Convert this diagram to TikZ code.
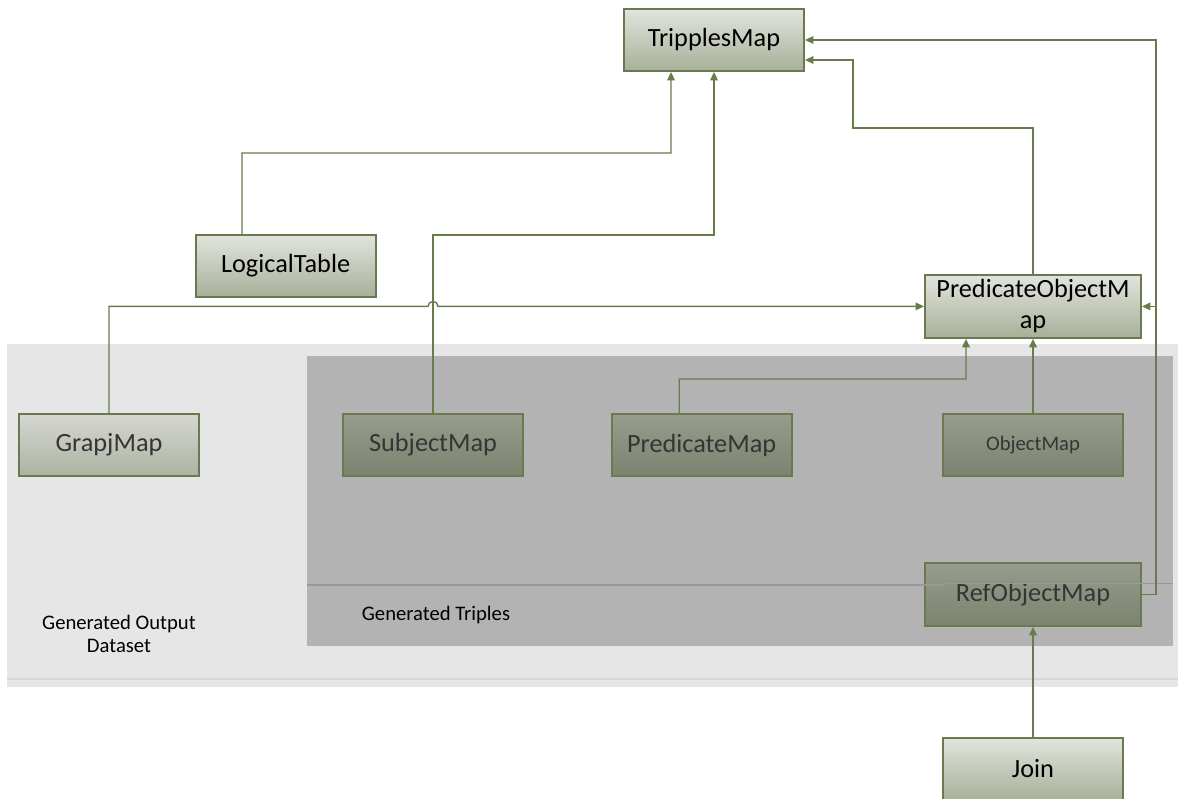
\documentclass[tikz,border=0pt]{standalone}
\usepackage{fontspec}
\setmainfont{Carlito}
\usetikzlibrary{arrows.meta,positioning,calc,shadings}
\definecolor{olive}{HTML}{6A7A50}
\definecolor{wire}{HTML}{687B4B}
\definecolor{boxtop}{HTML}{E2E4DE}
\definecolor{boxbot}{HTML}{A7B098}
\definecolor{midtop}{HTML}{D5D7D1}
\definecolor{midbot}{HTML}{ADB3A3}
\definecolor{darktop}{HTML}{979C8C}
\definecolor{darkbot}{HTML}{7C836F}
\definecolor{outerbg}{HTML}{E6E6E6}
\definecolor{innerbg}{HTML}{B3B3B3}
\definecolor{seam}{HTML}{999999}
\definecolor{dimtext}{HTML}{353535}
\newcommand{\bigfnt}{\fontsize{18.7}{22}\selectfont}
\newcommand{\smallfnt}{\fontsize{14.7}{16.4}\selectfont}
\tikzset{
  mapbox/.style={draw=olive, line width=1.4pt, top color=boxtop, bottom color=boxbot, minimum width=4.5cm, minimum height=1.55cm, inner sep=2pt, align=center, font=\bigfnt, text=black},
  midbox/.style={mapbox, top color=midtop, bottom color=midbot, text=dimtext},
  darkbox/.style={mapbox, top color=darktop, bottom color=darkbot, text=dimtext},
  arr/.style={-{Triangle[length=2.1mm,width=1.9mm]}, line width=1pt, draw=wire},
  note/.style={font=\smallfnt, text=black, align=center},
}
\begin{document}
\begin{tikzpicture}
  \useasboundingbox (0,0) rectangle (29.45,19.95);
  % background areas
  \fill[outerbg] (0.175,2.775) rectangle (29.45,11.35);
  \draw[line width=0.8pt, draw=black!16] (0.175,2.975) -- (29.45,2.975);
  \fill[innerbg] (7.675,3.8) rectangle (29.325,11.05);
  \node[note] (outlab) at (2.975,4.11) {Generated Output\\Dataset};
  \node[note] (triplab) at (10.9,4.575) {Generated Triples};
  % maps
  \node[mapbox] (trip) at (17.85,18.95) {TripplesMap};
  \node[mapbox] (logical) at (7.14,13.3) {LogicalTable};
  \node[mapbox, minimum width=5.4cm, minimum height=1.575cm] (pom) at (25.825,12.29) {PredicateObjectM\\ap};
  \node[midbox] (graph) at (2.725,8.825) {GrapjMap};
  \node[darkbox] (subj) at (10.825,8.825) {SubjectMap};
  \node[darkbox] (pred) at (17.54,8.825) {PredicateMap};
  \node[darkbox, font=\smallfnt] (obj) at (25.825,8.825) {ObjectMap};
  \node[darkbox, minimum width=5.4cm, minimum height=1.575cm] (refobj) at (25.825,5.09) {RefObjectMap};
  \node[mapbox] (join) at (25.825,0.725) {Join};
  \draw[line width=0.8pt, draw=seam] (7.675,5.325) -- (23.625,5.325);
  \draw[line width=0.6pt, draw=seam] (23.625,5.375) -- (29.325,5.375);
  % bends
  \coordinate (ltbend) at (16.775,16.125);
  \coordinate (smbend) at (17.85,14.075);
  \coordinate (pobend) at (21.325,16.75);
  \coordinate (rbend) at (28.9,18.95);
  \coordinate (pmbend) at (24.15,10.475);
  \coordinate (hop) at (10.7,12.29);
  % links
  \draw[arr] ([xshift=-10.9mm]logical.north) |- (ltbend) -- ([xshift=-10.75mm]trip.south);
  \draw[arr] (subj.north) |- (smbend) -- (trip.south);
  \draw[arr] (pom.north) |- (pobend) |- ([yshift=-5mm]trip.east);
  \draw[arr] (refobj.east) -| (rbend) -- (trip.east);
  \draw[arr] (refobj.east) -| (28.9,12.29) -- (pom.east);
  \draw[arr] (graph.north) |- (hop) arc[start angle=180, end angle=0, radius=0.125] -- (pom.west);
  \draw[arr] ([xshift=-5.6mm]pred.north) |- (pmbend) -- ([xshift=-16.75mm]pom.south);
  \draw[arr] (obj.north) -- (pom.south);
  \draw[arr] (join.north) -- (refobj.south);
\end{tikzpicture}
\end{document}
